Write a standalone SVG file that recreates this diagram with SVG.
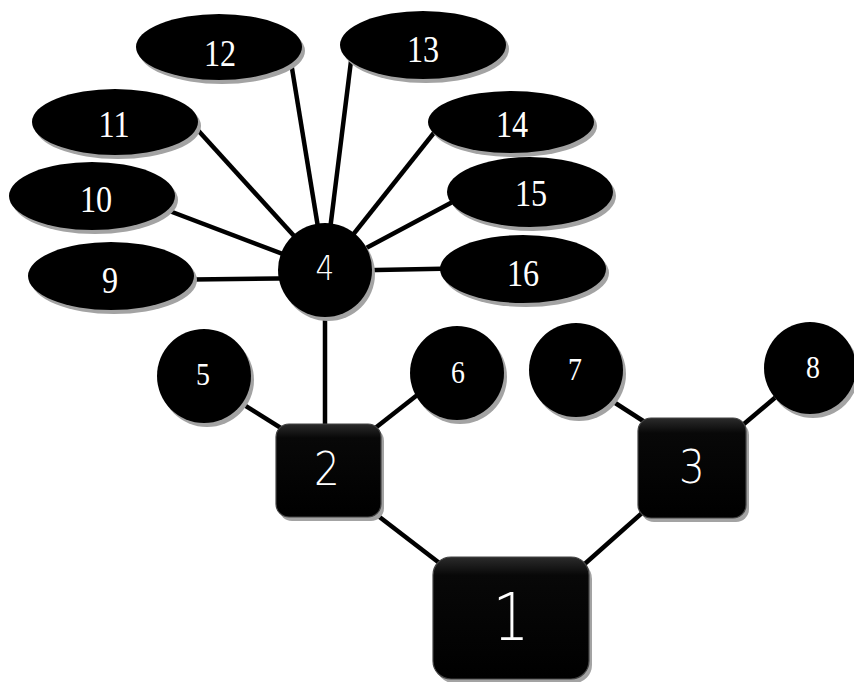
<svg xmlns="http://www.w3.org/2000/svg" width="854" height="682" viewBox="0 0 854 682">
<defs>
<linearGradient id="boxg" x1="0" y1="0" x2="0" y2="1">
<stop offset="0" stop-color="#2b2b2b"/>
<stop offset="0.15" stop-color="#080808"/>
<stop offset="1" stop-color="#000"/>
</linearGradient>
<style>
.edge{stroke:#000;stroke-width:4.5;fill:none}
.shd{fill:#a3a3a3}
.nd{fill:#000}
.box{fill:url(#boxg);stroke:#444;stroke-width:1.2}
.ser{font-family:"Liberation Serif","Times New Roman",serif;fill:#fff;text-anchor:middle}
.san{font-family:"DejaVu Sans","Liberation Sans",sans-serif;font-weight:200;fill:#fff;text-anchor:middle}
</style>
</defs>
<rect width="854" height="682" fill="#fff"/>
<g id="connectors">
<line class="edge" x1="150" y1="280" x2="325" y2="278"/>
<line class="edge" x1="130" y1="196" x2="325" y2="270"/>
<line class="edge" x1="175" y1="105" x2="325" y2="270"/>
<line class="edge" x1="289" y1="50" x2="325" y2="270"/>
<line class="edge" x1="353" y1="45" x2="325" y2="270"/>
<line class="edge" x1="460" y1="100" x2="325" y2="270"/>
<line class="edge" x1="490" y1="182" x2="325" y2="270"/>
<line class="edge" x1="480" y1="268" x2="325" y2="271"/>
<line class="edge" x1="325" y1="270" x2="325" y2="440"/>
<line class="edge" x1="225" y1="393" x2="300" y2="440"/>
<line class="edge" x1="430" y1="385" x2="360" y2="440"/>
<line class="edge" x1="595" y1="390" x2="665" y2="435"/>
<line class="edge" x1="790" y1="385" x2="725" y2="440"/>
<line class="edge" x1="360" y1="502" x2="455" y2="575"/>
<line class="edge" x1="660" y1="497" x2="570" y2="577"/>
</g>
<g id="n9"><ellipse class="shd" cx="114" cy="280" rx="83" ry="34"/><ellipse class="nd" cx="111" cy="276" rx="83" ry="34"/><text class="ser" font-size="37" transform="translate(110,293) scale(0.87,1)">9</text></g>
<g id="n10"><ellipse class="shd" cx="95" cy="200" rx="83" ry="34"/><ellipse class="nd" cx="92" cy="196" rx="83" ry="34"/><text class="ser" font-size="37" transform="translate(96,212) scale(0.87,1)">10</text></g>
<g id="n11"><ellipse class="shd" cx="118" cy="126" rx="83" ry="33"/><ellipse class="nd" cx="115" cy="122" rx="83" ry="33"/><text class="ser" font-size="37" transform="translate(114,137) scale(0.87,1)">11</text></g>
<g id="n12"><ellipse class="shd" cx="222" cy="51" rx="83" ry="33"/><ellipse class="nd" cx="219" cy="47" rx="83" ry="33"/><text class="ser" font-size="37" transform="translate(220,66) scale(0.87,1)">12</text></g>
<g id="n13"><ellipse class="shd" cx="426" cy="49" rx="83" ry="34"/><ellipse class="nd" cx="423" cy="45" rx="83" ry="34"/><text class="ser" font-size="37" transform="translate(423,62) scale(0.87,1)">13</text></g>
<g id="n14"><ellipse class="shd" cx="514" cy="126" rx="83" ry="31"/><ellipse class="nd" cx="511" cy="122" rx="83" ry="31"/><text class="ser" font-size="37" transform="translate(512,137) scale(0.87,1)">14</text></g>
<g id="n15"><ellipse class="shd" cx="533" cy="196" rx="83" ry="35"/><ellipse class="nd" cx="530" cy="192" rx="83" ry="35"/><text class="ser" font-size="37" transform="translate(531,206) scale(0.87,1)">15</text></g>
<g id="n16"><ellipse class="shd" cx="526" cy="273" rx="83" ry="34"/><ellipse class="nd" cx="523" cy="269" rx="83" ry="34"/><text class="ser" font-size="37" transform="translate(523,286) scale(0.87,1)">16</text></g>
<g id="n4"><circle class="shd" cx="328" cy="274" r="47"/><circle class="nd" cx="325" cy="270" r="47"/><text class="san" font-size="34" transform="translate(325,280) scale(0.87,1)">4</text></g>
<g id="n5"><circle class="shd" cx="207" cy="380" r="47"/><circle class="nd" cx="204" cy="376" r="47"/><text class="ser" font-size="32" transform="translate(203,385) scale(0.87,1)">5</text></g>
<g id="n6"><circle class="shd" cx="460" cy="377" r="47"/><circle class="nd" cx="457" cy="373" r="47"/><text class="ser" font-size="32" transform="translate(458,383) scale(0.87,1)">6</text></g>
<g id="n7"><circle class="shd" cx="579" cy="374" r="47"/><circle class="nd" cx="576" cy="370" r="47"/><text class="ser" font-size="32" transform="translate(575,380) scale(0.87,1)">7</text></g>
<g id="n8"><circle class="shd" cx="813" cy="372" r="46"/><circle class="nd" cx="810" cy="368" r="46"/><text class="ser" font-size="32" transform="translate(813,378) scale(0.87,1)">8</text></g>
<g id="n2"><rect class="shd" x="279" y="428" width="105" height="93" rx="13"/><rect class="box" x="276" y="424" width="105" height="93" rx="13"/><text class="san" font-size="46" transform="translate(327,485) scale(0.88,1)">2</text></g>
<g id="n3"><rect class="shd" x="641" y="422" width="108" height="100" rx="13"/><rect class="box" x="638" y="418" width="108" height="100" rx="13"/><text class="san" font-size="46" transform="translate(692,483) scale(0.88,1)">3</text></g>
<g id="n1"><rect class="shd" x="436" y="561" width="156" height="122" rx="18"/><rect class="box" x="433" y="557" width="156" height="122" rx="18"/><text class="san" font-size="66" transform="translate(511,640) scale(0.88,1)">1</text></g>
</svg>
